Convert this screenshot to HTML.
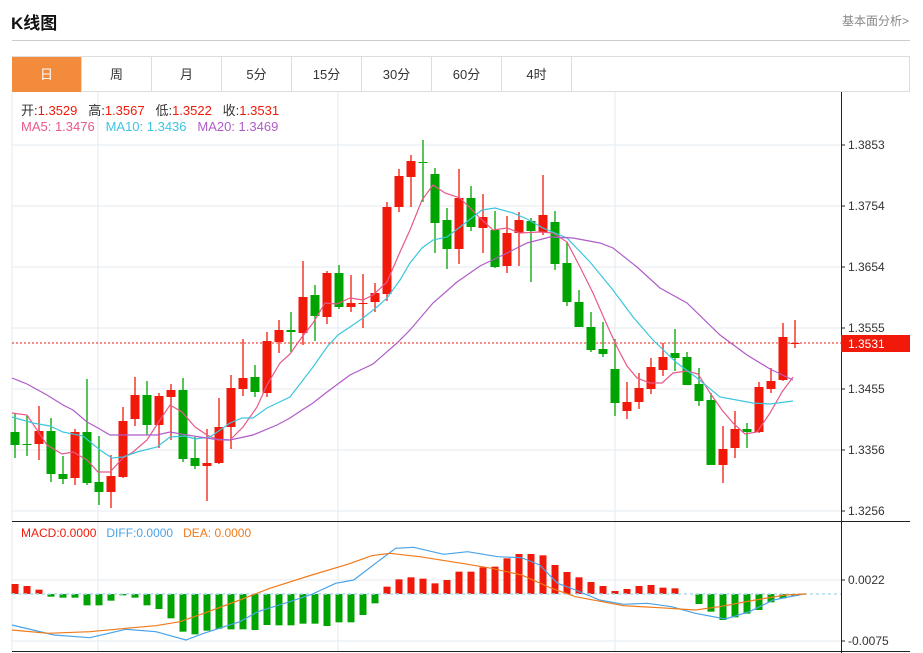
<!DOCTYPE html>
<html><head><meta charset="utf-8"><style>
body{margin:0;width:923px;height:653px;background:#fff;font-family:"Liberation Sans","Noto Sans CJK SC",sans-serif;position:relative;overflow:hidden}
.a{position:absolute;white-space:nowrap}
.tab{position:absolute;top:57px;height:35px;width:70px;line-height:35px;text-align:center;font-size:13px;color:#333;border-right:1px solid #ddd;box-sizing:border-box}
</style></head><body>
<div class="a" style="left:11px;top:9px;font-size:17px;font-weight:bold;color:#111">K线图</div>
<div class="a" style="left:842px;top:12px;font-size:12px;color:#888">基本面分析&gt;</div>
<div class="a" style="left:12px;top:40px;width:898px;height:1px;background:#ccc"></div>
<div class="a" style="left:12px;top:56px;width:898px;height:36px;border:1px solid #ddd;box-sizing:border-box"></div>
<div class="tab" style="left:12px;background:#f28c3c;color:#fff">日</div>
<div class="tab" style="left:82px">周</div>
<div class="tab" style="left:152px">月</div>
<div class="tab" style="left:222px">5分</div>
<div class="tab" style="left:292px">15分</div>
<div class="tab" style="left:362px">30分</div>
<div class="tab" style="left:432px">60分</div>
<div class="tab" style="left:502px">4时</div>
<svg id="s" class="a" style="left:0;top:0" width="923" height="653"></svg>
<div class="a" style="left:21px;top:100px;font-size:13px;color:#333">开:<span style="color:#f0190a">1.3529</span>&nbsp;&nbsp; 高:<span style="color:#f0190a">1.3567</span>&nbsp;&nbsp; 低:<span style="color:#f0190a">1.3522</span>&nbsp;&nbsp; 收:<span style="color:#f0190a">1.3531</span></div>
<div class="a" style="left:21px;top:119px;font-size:13px"><span style="color:#e8588a">MA5: 1.3476</span>&nbsp;&nbsp; <span style="color:#3cc6de">MA10: 1.3436</span>&nbsp;&nbsp; <span style="color:#b05cc8">MA20: 1.3469</span></div>
<div class="a" style="left:21px;top:526px;font-size:12px"><span style="color:#f0190a">MACD:0.0000</span>&nbsp;&nbsp; <span style="color:#4aa3e8">DIFF:0.0000</span>&nbsp;&nbsp; <span style="color:#f07a1a">DEA: 0.0000</span></div>
<script>
var s=document.getElementById('s'),h='';
function L(x1,y1,x2,y2,c,w,d){h+='<line x1="'+x1+'" y1="'+y1+'" x2="'+x2+'" y2="'+y2+'" stroke="'+c+'" stroke-width="'+(w||1)+'"'+(d?' stroke-dasharray="'+d+'"':'')+'/>';}
function R(x,y,w,hh,c){h+='<rect x="'+x+'" y="'+y+'" width="'+w+'" height="'+Math.max(hh,1)+'" fill="'+c+'"/>';}
function T(x,y,t,c,f){h+='<text x="'+x+'" y="'+y+'" fill="'+(c||'#333')+'" font-size="'+(f||12)+'">'+t+'</text>';}
function P(pts,c,w){h+='<polyline fill="none" stroke="'+c+'" stroke-width="'+(w||1.2)+'" points="'+pts.map(function(p){return p[0]+','+p[1]}).join(' ')+'"/>';}
var G='#e3ebf2';
[145,206,267,328,389,450,511,580,641].forEach(function(y){L(12,y,841,y,G)});
[98,338,615].forEach(function(x){L(x,92,x,651,G)});
L(12,92,12,651,G);
L(12,521.5,910,521.5,'#222');L(12,651.5,910,651.5,'#222');L(841.5,92,841.5,653,'#222');
var lab=[[145,'1.3853'],[206,'1.3754'],[267,'1.3654'],[328,'1.3555'],[389,'1.3455'],[450,'1.3356'],[511,'1.3256']];
lab.forEach(function(l){L(841,l[0],845,l[0],'#222');T(848,l[0]+4,l[1])});
L(841,580,845,580,'#222');T(848,584,'0.0022');L(841,641,845,641,'#222');T(848,645,'-0.0075');
L(12,343,841,343,'#f0190a',1,'2,2');
var C=[[432,445,413,458],[444,444,416,456],[444,431,406,460],[431,474,418,482],[474,479,456,484],[478,432,429,485],[432,483,379,485],[482,492,436,505],[492,476,455,508],[477,421,407,478],[419,395,377,426],[395,425,381,435],[425,396,393,448],[397,390,384,440],[390,459,378,462],[458,466,437,469],[466,463,429,501],[463,427,398,464],[427,388,375,449],[389,378,339,396],[377,392,365,397],[393,341,332,397],[342,330,320,353],[330,332,312,352],[333,297,261,345],[295,316,285,341],[317,273,271,324],[273,307,265,309],[307,303,275,312],[304,303,274,328],[302,293,283,312],[294,207,202,301],[207,176,169,212],[177,161,155,207],[162,163,140,202],[174,223,168,253],[220,249,208,269],[249,198,169,264],[198,227,186,231],[228,217,194,253],[230,267,211,268],[266,233,216,273],[233,220,212,266],[221,231,218,282],[232,215,175,235],[222,264,211,270],[263,302,242,306],[302,327,290,327],[327,350,312,352],[349,354,322,357],[369,403,339,416],[411,402,382,419],[402,388,373,409],[389,367,358,394],[370,357,343,376],[353,358,329,371],[357,385,352,385],[384,401,368,406],[400,465,393,465],[465,449,426,483],[448,429,411,458],[429,432,423,448],[432,387,382,433],[389,381,368,393],[380,337,323,381],[344,343,320,348]];
C.forEach(function(c,i){var x=15+12*i,up=c[1]<=c[0]&&!(i==1||i==34||i==61),col=up?'#f0190a':'#00a400';
if(i==29||i==65)col='#f0190a';
L(x,c[2],x,c[3],col,1.3);var t=Math.min(c[0],c[1]);R(x-4.5,t,9,Math.abs(c[0]-c[1]),col);});
P([[12,413],[27,415],[47,445],[62,454],[73,452],[87,460],[98,472],[110,472],[123,458],[133,452],[147,440],[158,423],[170,405],[182,412],[195,427],[207,435],[218,440],[230,440],[243,427],[257,407],[267,385],[280,363],[290,354],[302,337],[313,323],[325,303],[337,304],[350,298],[363,300],[373,295],[387,282],[400,252],[410,230],[422,200],[433,185],[445,193],[460,198],[480,218],[493,230],[507,228],[520,233],[540,232],[553,233],[567,242],[580,267],[593,293],[607,325],[617,347],[627,366],[637,378],[650,383],[662,383],[673,373],[687,371],[698,374],[710,393],[722,410],[733,423],[745,434],[757,432],[770,413],[782,392],[793,377]],'#e8588a');
P([[12,417],[33,423],[50,426],[63,432],[83,436],[100,450],[112,458],[123,457],[137,452],[157,447],[170,437],[185,436],[195,439],[210,437],[230,423],[242,418],[253,418],[267,408],[290,397],[313,367],[327,347],[338,335],[350,327],[363,318],[377,307],[387,298],[400,280],[410,263],[422,248],[433,240],[447,237],[460,227],[482,210],[495,208],[513,213],[527,219],[543,228],[567,238],[590,262],[613,290],[633,317],[653,340],[677,363],[697,378],[720,397],[753,403],[770,404],[793,401]],'#3cc6de');
P([[12,378],[27,384],[47,395],[63,405],[73,410],[87,422],[98,428],[110,435],[133,435],[157,435],[170,432],[187,435],[213,439],[230,440],[253,435],[277,425],[290,418],[302,410],[313,403],[327,392],[350,375],[373,364],[397,343],[410,330],[433,303],[457,282],[480,266],[503,255],[527,243],[550,237],[573,238],[600,243],[613,248],[637,267],[660,288],[687,303],[720,335],[747,355],[770,369],[793,380]],'#b05cc8');
var Z=594,red=[207,213,224],grn=[245,248,248,271,271,257,241,248,271,282,310,350,358,347,341,343,343,345,330,331,331,326,326,333,322,322,300,265],
red2=[215,193,187,191,205,195,170,170,157,155,130,117,117,121,150,171,187,201,213,228,222,213,210,218,220],grn2=[267,290,315,307,296,285,262,250,243];
function bar(i,zy,c){var x=15+12*i,y=515+zy/3;R(x-3.5,Math.min(y,Z),7,Math.abs(y-Z),c);}
red.forEach(function(v,i){bar(i,v,'#f0190a')});
grn.forEach(function(v,i){bar(i+3,v,'#00a400')});
red2.forEach(function(v,i){bar(i+31,v,'#f0190a')});
grn2.forEach(function(v,i){bar(i+57,v,'#00a400')});
L(12,Z,841,Z,'#b0dcec',1.5,'3,3');
function cv(a){return a.map(function(p){return [(p[0]/1.668).toFixed(1),(515+p[1]/3).toFixed(1)]})}
P(cv([[20,330],[90,360],[150,368],[210,343],[260,350],[310,375],[340,355],[400,320],[430,290],[480,262],[520,238],[560,205],[590,195],[630,140],[660,100],[690,97],[740,118],[780,110],[830,125],[870,128],[900,150],[930,205],[960,225],[1000,255],[1040,268],[1080,265],[1120,275],[1160,295],[1210,312],[1250,290],[1290,255],[1340,237]]),'#4aa3e8');
P(cv([[20,345],[80,355],[150,350],[210,340],[260,332],[300,320],[340,295],[400,255],[450,220],[520,180],[580,148],[620,122],[650,115],[700,125],[770,145],[820,160],[870,180],[920,220],[960,245],[1040,272],[1100,278],[1160,285],[1200,275],[1260,255],[1310,240],[1345,237]]),'#f07a1a');
R(841,335,69,17,'#f0190a');
h+='<text x="848" y="348" fill="#fff" font-size="12">1.3531</text>';
s.innerHTML=h;
</script>
</body></html>
